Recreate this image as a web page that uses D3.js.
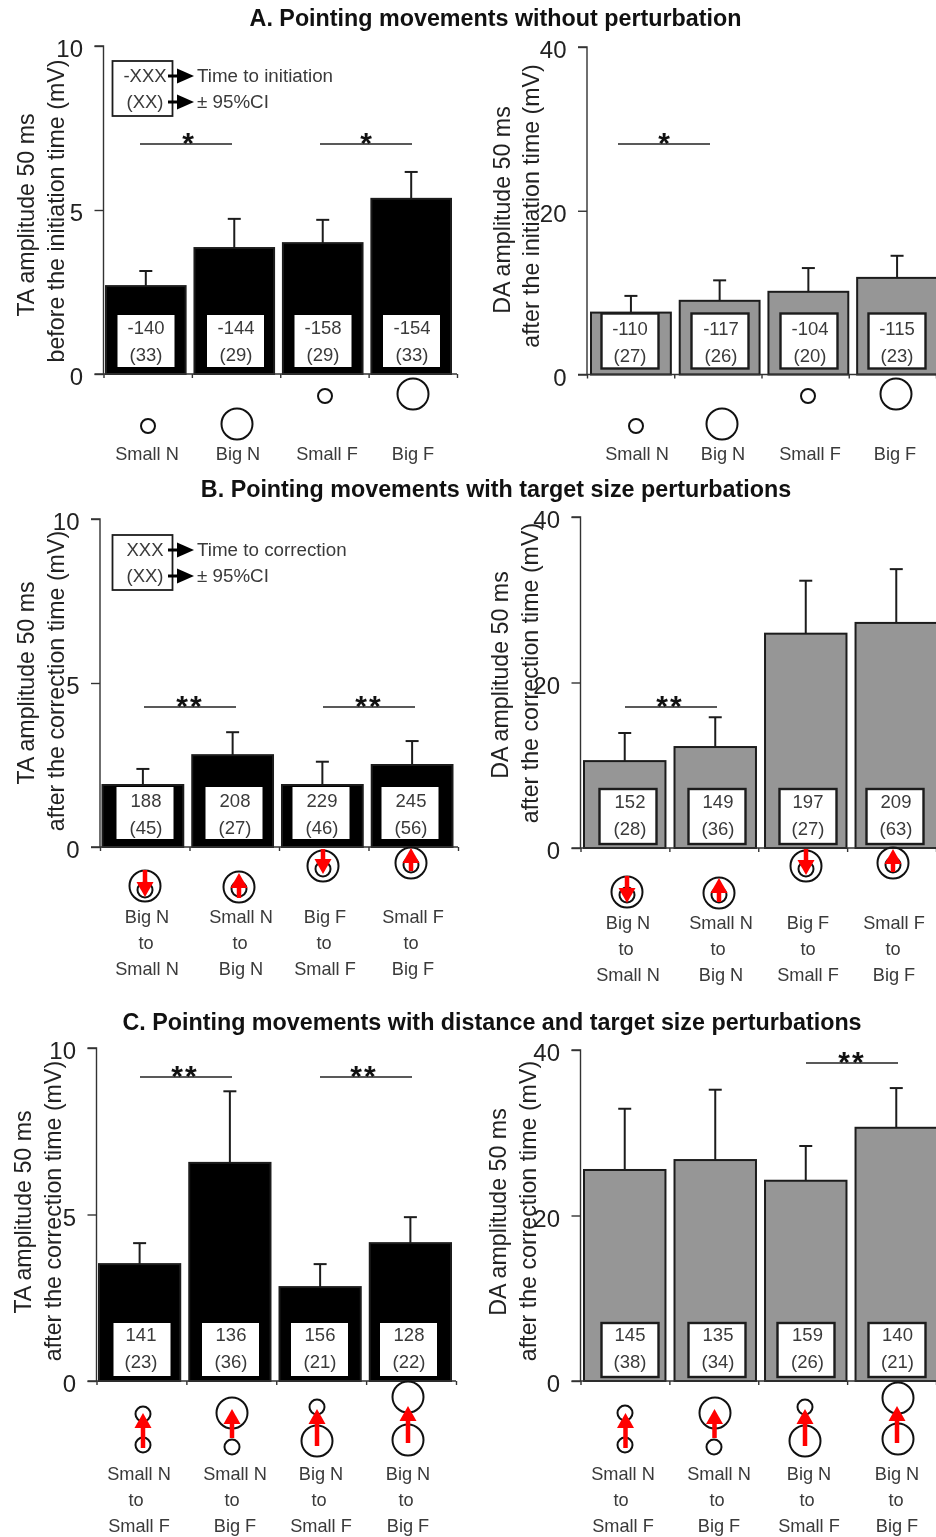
<!DOCTYPE html>
<html><head><meta charset="utf-8">
<script src="https://cdn.jsdelivr.net/npm/d3@7"></script>
<style>
html,body{margin:0;padding:0;background:#fff;overflow:hidden}
svg{display:block;filter:blur(0.4px)}
text{font-family:"Liberation Sans",Arial,sans-serif}
</style></head><body>
<svg id="c" width="936" height="1537"></svg>
<script>
// ---- data ----
const taA=[2.68,3.84,3.99,5.34], taAErr=[3.14,4.73,4.70,6.16];
const daA=[7.56,9.0,10.1,11.8], daAErr=[9.6,11.5,13.0,14.5];
const taB=[1.89,2.8,1.89,2.5], taBErr=[2.38,3.5,2.6,3.23];
const daB=[10.5,12.2,25.9,27.2], daBErr=[13.9,15.8,32.3,33.7];
const taC=[3.51,6.55,2.82,4.14], taCErr=[4.14,8.7,3.51,4.92];
const daC=[25.5,26.7,24.2,30.6], daCErr=[32.9,35.2,28.4,35.4];
const timesTaA=["-140","-144","-158","-154"], nTaA=["(33)","(29)","(29)","(33)"];
const timesDaA=["-110","-117","-104","-115"], nDaA=["(27)","(26)","(20)","(23)"];
const timesTaB=["188","208","229","245"], nTaB=["(45)","(27)","(46)","(56)"];
const timesDaB=["152","149","197","209"], nDaB=["(28)","(36)","(27)","(63)"];
const timesTaC=["141","136","156","128"], nTaC=["(23)","(36)","(21)","(22)"];
const timesDaC=["145","135","159","140"], nDaC=["(38)","(34)","(26)","(21)"];
const catsA=[["Small N"],["Big N"],["Small F"],["Big F"]];
const catsB=[["Big N","to","Small N"],["Small N","to","Big N"],["Big F","to","Small F"],["Small F","to","Big F"]];
const catsC=[["Small N","to","Small F"],["Small N","to","Big F"],["Big N","to","Small F"],["Big N","to","Big F"]];
const titles=[
 {t:"A. Pointing movements without perturbation",x:495.5,y:26},
 {t:"B. Pointing movements with target size perturbations",x:496,y:497},
 {t:"C. Pointing movements with distance and target size perturbations",x:492,y:1030}];

// ---- layout of each panel ----
const panels=[
 {v:taA,e:taAErr,time:timesTaA,n:nTaA,cats:catsA,max:10,ticks:[0,5,10],fill:"#000",
  ax:103.5,axEnd:457,top:46,y0:374,b:[106,451],
  bx:[146,235.5,323,411.5],tc:[146,236,323,412],boxT:59,boxB:7,
  yl:[["TA amplitude 50 ms",34,215],["before the initiation time (mV)",64,211]],
  lx:[147,238,327,413],tx:[147,238,327,413],ly:460,
  sig:[{x1:140,x2:232,y:144,s:"*",c:188},{x1:320,x2:412,y:144,s:"*",c:366}],
  legend:{y:61,l1:"-XXX",r1:"Time to initiation"},
  glyph:[{o:[[148,426,7]]},{o:[[237,424,15.5]]},{o:[[325,396,7]]},{o:[[413,394,15.5]]}]},
 {v:daA,e:daAErr,time:timesDaA,n:nDaA,cats:catsA,max:40,ticks:[0,20,40],fill:"#969696",
  ax:587,axEnd:936,top:47,y0:374.5,b:[591,937],
  bx:[630,720,809,897],tc:[630,721,810,897],boxT:61,boxB:6,
  yl:[["DA amplitude 50 ms",510,210],["after the initiation time (mV)",539,206]],
  lx:[637,723,810,895],tx:[637,723,810,895],ly:460,
  sig:[{x1:618,x2:710,y:144,s:"*",c:664}],
  glyph:[{o:[[636,426,7]]},{o:[[722,424,15.5]]},{o:[[808,396,7]]},{o:[[896,394,15.5]]}]},
 {v:taB,e:taBErr,time:timesTaB,n:nTaB,cats:catsB,max:10,ticks:[0,5,10],fill:"#000",
  ax:100,axEnd:458,top:519,y0:847,b:[102.5,452.5],
  bx:[145,234,321,410],tc:[146,235,322,411],boxT:60,boxB:8,
  yl:[["TA amplitude 50 ms",34,683],["after the correction time (mV)",64,681]],
  lx:[147,241,325,413],tx:[146,240,324,411],ly:923,
  sig:[{x1:144,x2:236,y:707,s:"**",c:190},{x1:323,x2:415,y:707,s:"**",c:369}],
  legend:{y:535,l1:"XXX",r1:"Time to correction"},
  glyph:[{o:[[145,886,15.5],[145,890,7.5]],a:[145,870,145,897]},{o:[[239,887,15.5],[239,889,7.5]],a:[239,898,239,873]},
         {o:[[323,866,15.5],[323,869,7.5]],a:[323,849,323,874]},{o:[[411,863,15.5],[411,865,7.5]],a:[411,871,411,848]}]},
 {v:daB,e:daBErr,time:timesDaB,n:nDaB,cats:catsB,max:40,ticks:[0,20,40],fill:"#969696",
  ax:580.5,axEnd:936,top:517,y0:848,b:[584,937],
  bx:[628,717,808,895],tc:[630,718,808,896],boxT:59,boxB:4,
  yl:[["DA amplitude 50 ms",508,675],["after the correction time (mV)",538,673]],
  lx:[628,721,808,894],tx:[626,718,808,893],ly:929,
  sig:[{x1:625,x2:717,y:707,s:"**",c:670}],
  glyph:[{o:[[627,892,15.5],[627,895,7.5]],a:[627,876,627,903]},{o:[[719,893,15.5],[719,895,7.5]],a:[719,902,719,878]},
         {o:[[806,866,15.5],[806,869,7.5]],a:[806,849,806,875]},{o:[[893,863,15.5],[893,865,7.5]],a:[893,872,893,849]}]},
 {v:taC,e:taCErr,time:timesTaC,n:nTaC,cats:catsC,max:10,ticks:[0,5,10],fill:"#000",
  ax:96.5,axEnd:456,top:1048,y0:1381,b:[99,451],
  bx:[142,230.5,319.5,408.5],tc:[141,231,320,409],boxT:58,boxB:5,
  yl:[["TA amplitude 50 ms",31,1212],["after the correction time (mV)",61,1211]],
  lx:[139,235,321,408],tx:[136,232,319,406],ly:1480,
  sig:[{x1:140,x2:232,y:1077,s:"**",c:185},{x1:320,x2:412,y:1077,s:"**",c:364}],
  glyph:[{o:[[143,1414,7.5],[143,1445,7.5]],a:[143,1448,143,1413]},{o:[[232,1413,15.5],[232,1447,7.5]],a:[232,1438,232,1409]},
         {o:[[317,1407,7.5],[317,1441,15.5]],a:[317,1446,317,1409]},{o:[[408,1397,15.5],[408,1440,15.5]],a:[408,1443,408,1406]}]},
 {v:daC,e:daCErr,time:timesDaC,n:nDaC,cats:catsC,max:40,ticks:[0,20,40],fill:"#969696",
  ax:580.5,axEnd:936,top:1050,y0:1381,b:[584,937],
  bx:[630,717,806,897],tc:[630,718,807.5,897.5],boxT:58,boxB:4,
  yl:[["DA amplitude 50 ms",506,1212],["after the correction time (mV)",536,1211]],
  lx:[623,719,809,897],tx:[621,717,807,896],ly:1480,
  sig:[{x1:806,x2:898,y:1063,s:"**",c:852}],
  glyph:[{o:[[625,1413,7.5],[625,1445,7.5]],a:[625.5,1448,625.5,1413]},{o:[[715,1413,15.5],[714,1447,7.5]],a:[714.5,1438,714.5,1409]},
         {o:[[805,1407,7.5],[805,1441,15.5]],a:[805,1446,805,1409]},{o:[[898,1398,15.5],[898,1439,15.5]],a:[897,1443,897,1406]}]}
];

const svg=d3.select("#c");
const INK="#1c1c1c", TXT="#3a3a3a";

svg.selectAll("text.title").data(titles).join("text").attr("class","title")
 .attr("x",d=>d.x).attr("y",d=>d.y).attr("text-anchor","middle")
 .attr("font-weight","bold").attr("font-size",23.3).attr("fill","#111").text(d=>d.t);

function arrow(g,a,col,sw,headLen,headW){
 const [x1,y1,x2,y2]=a, L=Math.hypot(x2-x1,y2-y1), ux=(x2-x1)/L, uy=(y2-y1)/L;
 const bx=x2-ux*headLen, by=y2-uy*headLen;
 g.append("line").attr("x1",x1).attr("y1",y1).attr("x2",bx).attr("y2",by).attr("stroke",col).attr("stroke-width",sw);
 g.append("path").attr("fill",col)
  .attr("d",d3.line()([[x2,y2],[bx-uy*headW/2,by+ux*headW/2],[bx+uy*headW/2,by-ux*headW/2]])+"Z");
}

panels.forEach(p=>{
 const g=svg.append("g");
 const y=d3.scaleLinear().domain([0,p.max]).range([p.y0,p.top]);
 const x=d3.scaleBand().domain(d3.range(4)).range(p.b).paddingInner(0.1);
 const tick=d3.scalePoint().domain(d3.range(5)).range([p.ax,p.axEnd]);
 const black=p.fill==="#000";

 const cx=i=>x(i)+x.bandwidth()/2;
 g.selectAll("line.err").data(p.e).join("line").attr("x1",(d,i)=>cx(i)).attr("x2",(d,i)=>cx(i))
  .attr("y1",(d,i)=>y(p.v[i])).attr("y2",d=>y(d)).attr("stroke",INK).attr("stroke-width",2);
 g.selectAll("line.cap").data(p.e).join("line").attr("x1",(d,i)=>cx(i)-6.5).attr("x2",(d,i)=>cx(i)+6.5)
  .attr("y1",d=>y(d)).attr("y2",d=>y(d)).attr("stroke",INK).attr("stroke-width",2);
 g.selectAll("rect.bar").data(p.v).join("rect").attr("x",(d,i)=>x(i)).attr("width",x.bandwidth())
  .attr("y",d=>y(d)).attr("height",d=>p.y0-y(d)).attr("fill",p.fill).attr("stroke",INK).attr("stroke-width",2);

 const ya=g.append("g").attr("transform",`translate(${p.ax},0)`)
  .call(d3.axisLeft(y).tickValues(p.ticks).tickSize(9).tickPadding(11.5).tickFormat(d3.format("d")));
 ya.selectAll("text").attr("font-size",24).attr("font-family","Liberation Sans").attr("fill","#222").attr("dy","0.44em").attr("dx",0);
 const xa=g.append("g").attr("transform",`translate(0,${p.y0})`)
  .call(d3.axisBottom(tick).tickSize(4).tickFormat(""));
 [ya,xa].forEach(a=>{a.selectAll("path,line").attr("stroke","#333").attr("stroke-width",1.4);});
 ya.select("path").attr("d",`M-9,${p.top}H0V${p.y0}H-9`);
 xa.select("path").attr("d",`M${p.ax},0H${p.axEnd}`);

 g.selectAll("text.yl").data(p.yl).join("text").attr("text-anchor","middle")
  .attr("transform",d=>`translate(${d[1]},${d[2]}) rotate(-90)`)
  .attr("font-size",23.2).attr("fill","#222").text(d=>d[0]);

 g.selectAll("rect.box").data(p.time).join("rect")
  .attr("x",(d,i)=>p.bx[i]-28.5).attr("width",57).attr("y",p.y0-p.boxT).attr("height",p.boxT-p.boxB)
  .attr("fill","#fff").attr("stroke",black?"none":INK).attr("stroke-width",2.4);
 g.selectAll("text.t1").data(p.time).join("text").attr("x",(d,i)=>p.tc[i]).attr("y",p.y0-40)
  .attr("text-anchor","middle").attr("font-size",18.5).attr("fill",TXT).text(d=>d);
 g.selectAll("text.t2").data(p.n).join("text").attr("x",(d,i)=>p.tc[i]).attr("y",p.y0-13)
  .attr("text-anchor","middle").attr("font-size",18.5).attr("fill",TXT).text(d=>d);

 p.cats.forEach((lines,i)=>{
  lines.forEach((s,k)=>{
   g.append("text").attr("x",k===1?p.tx[i]:p.lx[i]).attr("y",p.ly+k*26)
    .attr("text-anchor","middle").attr("font-size",18.2).attr("fill",TXT).text(s);
  });
 });

 p.glyph.forEach(s=>{
  s.o.forEach(c=>g.append("circle").attr("cx",c[0]).attr("cy",c[1]).attr("r",c[2])
    .attr("fill","none").attr("stroke","#111").attr("stroke-width",2));
  if(s.a) arrow(g,s.a,"#f00",4.5,15,17);
 });

 (p.sig||[]).forEach(s=>{
  g.append("line").attr("x1",s.x1).attr("x2",s.x2).attr("y1",s.y).attr("y2",s.y).attr("stroke","#222").attr("stroke-width",1.5);
  g.append("text").attr("x",s.c).attr("y",s.y+9).attr("text-anchor","middle")
   .attr("font-size",30).attr("font-weight","bold").attr("letter-spacing",s.s==="*"?0:2).attr("fill","#111").text(s.s);
 });

 if(p.legend){
  const L=p.legend;
  g.append("rect").attr("x",112.5).attr("y",L.y).attr("width",60).attr("height",55)
   .attr("fill","#fff").attr("stroke",INK).attr("stroke-width",1.8);
  g.append("text").attr("x",145).attr("y",L.y+21).attr("text-anchor","middle").attr("font-size",18.5).attr("fill",TXT).text(L.l1);
  g.append("text").attr("x",145).attr("y",L.y+47).attr("text-anchor","middle").attr("font-size",18.5).attr("fill",TXT).text("(XX)");
  [[15,L.r1],[41,"± 95%CI"]].forEach(r=>{
   arrow(g,[168,L.y+r[0],194,L.y+r[0]],"#000",3,17,15);
   g.append("text").attr("x",197).attr("y",L.y+r[0]+6).attr("font-size",18.8).attr("fill",TXT).text(r[1]);
  });
 }
});
</script>
</body></html>
